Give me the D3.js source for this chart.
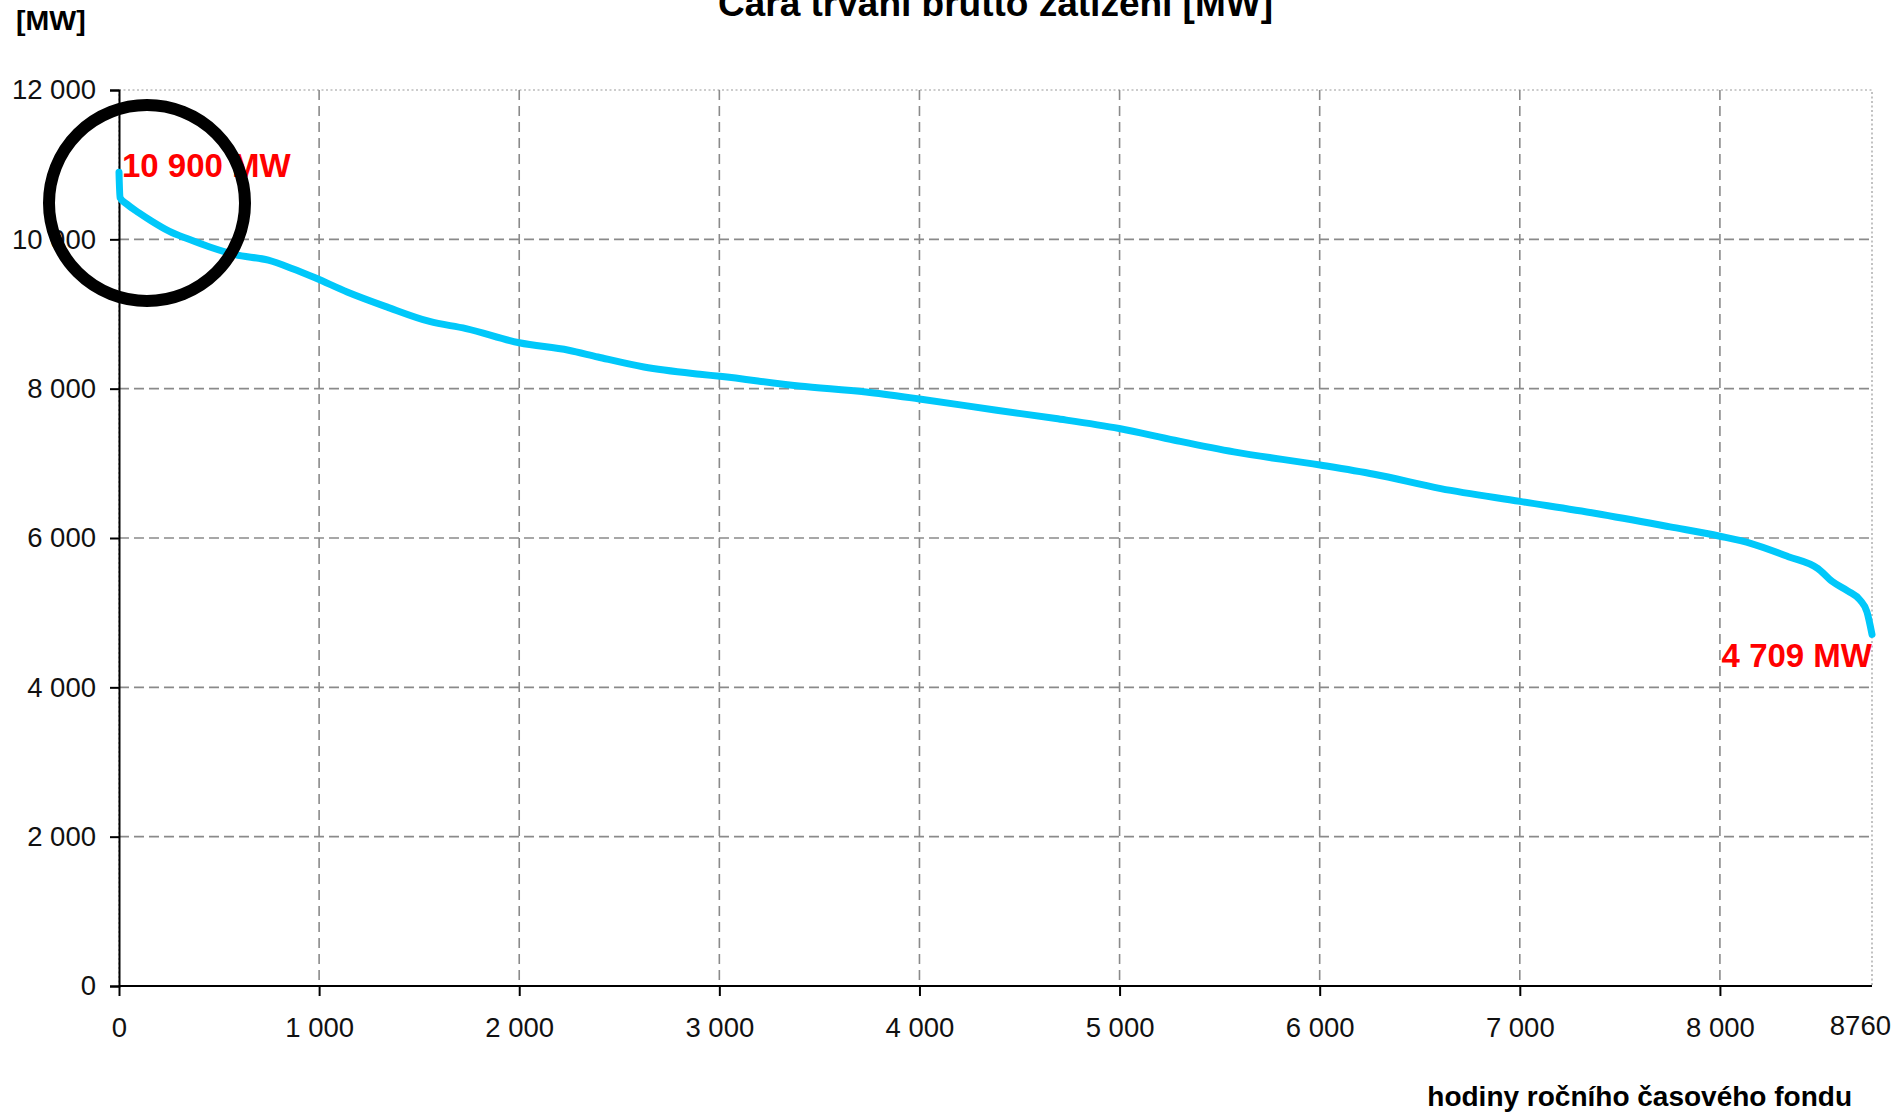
<!DOCTYPE html>
<html lang="cs">
<head>
<meta charset="utf-8">
<title>Čára trvání brutto zatížení [MW]</title>
<script src="https://cdn.jsdelivr.net/npm/d3@7/dist/d3.min.js"></script>
<style>
  html, body { margin: 0; padding: 0; background: #fff; }
  svg { display: block; font-family: "Liberation Sans", Arial, sans-serif; }
</style>
</head>
<body>
<svg id="chart" width="1897" height="1115"></svg>
<script>
// Load duration curve: hours of the year (sorted) vs. gross load in MW
const hours = [0, 5, 40, 100, 160, 250, 350, 450, 580, 746, 864, 980, 1140, 1338, 1552, 1734,
  2000, 2247, 2393, 2623, 2903, 3003, 3398, 3733, 4000, 4386, 4682, 4998, 5275, 5571, 6002,
  6272, 6605, 7002, 7381, 7751, 8000, 8157, 8342, 8490, 8560, 8640, 8700, 8735, 8760];
const loadMW = [10900, 10560, 10470, 10355, 10250, 10110, 10000, 9900, 9795, 9720, 9610, 9485, 9295, 9095, 8900, 8805,
  8615, 8515, 8424, 8290, 8193, 8165, 8035, 7956, 7862, 7711, 7600, 7466, 7309, 7153, 6978,
  6854, 6662, 6490, 6328, 6149, 6024, 5926, 5750, 5590, 5420, 5290, 5170, 5010, 4709];

const yTicks = [0, 2000, 4000, 6000, 8000, 10000, 12000];
const xTicks = [0, 1000, 2000, 3000, 4000, 5000, 6000, 7000, 8000];
const xEndLabel = "8760";
const peakLabel = "10 900 MW";
const minLabel = "4 709 MW";
const titleText = "Čára trvání brutto zatížení [MW]";
const yUnitText = "[MW]";
const xTitleText = "hodiny ročního časového fondu";

const svg = d3.select("#chart");
const plotLeft = 119, plotRight = 1872, plotTop = 90, plotBottom = 986;

const x = d3.scaleLinear().domain([0, 8760]).range([plotLeft, plotRight]);
const y = d3.scaleLinear().domain([0, 12000]).range([plotBottom, plotTop]);

const cz = d3.formatLocale({ decimal: ",", thousands: " ", grouping: [3], currency: ["", ""] });
const fmt = cz.format(",");

const gridColor = "#8a8a8a";

// plot frame (dotted)
svg.append("rect")
  .attr("x", plotLeft).attr("y", plotTop)
  .attr("width", plotRight - plotLeft).attr("height", plotBottom - plotTop)
  .attr("fill", "none")
  .attr("stroke", "#9a9a9a").attr("stroke-width", 1.2)
  .attr("stroke-dasharray", "2,2.5");

// dashed grid
svg.append("g").selectAll("line")
  .data(yTicks.filter(v => v > 0 && v < 12000))
  .join("line")
  .attr("x1", plotLeft).attr("x2", plotRight)
  .attr("y1", d => y(d)).attr("y2", d => y(d))
  .attr("stroke", gridColor).attr("stroke-width", 1.6)
  .attr("stroke-dasharray", "10,5");

svg.append("g").selectAll("line")
  .data(xTicks.filter(v => v > 0))
  .join("line")
  .attr("x1", d => x(d)).attr("x2", d => x(d))
  .attr("y1", plotTop).attr("y2", plotBottom)
  .attr("stroke", gridColor).attr("stroke-width", 1.6)
  .attr("stroke-dasharray", "10,6");

// axes
const yAxis = svg.append("g")
  .attr("transform", `translate(${plotLeft},0)`)
  .call(d3.axisLeft(y).tickValues(yTicks).tickFormat(fmt).tickSize(9).tickPadding(14));
const xAxis = svg.append("g")
  .attr("transform", `translate(0,${plotBottom})`)
  .call(d3.axisBottom(x).tickValues(xTicks).tickFormat(fmt).tickSize(10).tickPadding(21));

[yAxis, xAxis].forEach(g => {
  g.select(".domain").attr("stroke", "#000").attr("stroke-width", 2);
  g.selectAll(".tick line").attr("stroke", "#000").attr("stroke-width", 2);
  g.selectAll(".tick text")
    .attr("fill", "#111")
    .style("font-size", "27.5px")
    .style("font-family", "'Liberation Sans', Arial, sans-serif");
});
xAxis.select(".domain").attr("d", `M${plotLeft},0H${plotRight}`);

// end-of-year label on x axis
svg.append("text")
  .attr("x", 1891).attr("y", 1035)
  .attr("text-anchor", "end")
  .attr("fill", "#111")
  .style("font-size", "27.5px")
  .text(xEndLabel);

// load duration curve
const line = d3.line()
  .x((d, i) => x(hours[i]))
  .y(d => y(d))
  .curve(d3.curveMonotoneX);

svg.append("path")
  .datum(loadMW)
  .attr("d", line)
  .attr("fill", "none")
  .attr("stroke", "#00c8fa")
  .attr("stroke-width", 7)
  .attr("stroke-linejoin", "round")
  .attr("stroke-linecap", "round");

// value labels
svg.append("text")
  .attr("x", x(hours[0]) + 3).attr("y", y(loadMW[0]) + 5)
  .attr("fill", "#ff0000")
  .style("font-size", "33px").style("font-weight", "bold")
  .text(peakLabel);

svg.append("text")
  .attr("x", plotRight).attr("y", y(loadMW[loadMW.length - 1]) + 33)
  .attr("text-anchor", "end")
  .attr("fill", "#ff0000")
  .style("font-size", "33px").style("font-weight", "bold")
  .text(minLabel);

// highlight ring around the annual peak
svg.append("circle")
  .attr("cx", 147).attr("cy", 203).attr("r", 98)
  .attr("fill", "none")
  .attr("stroke", "#000").attr("stroke-width", 12);

// titles
svg.append("text")
  .attr("x", (plotLeft + plotRight) / 2).attr("y", 16)
  .attr("text-anchor", "middle")
  .attr("fill", "#000")
  .style("font-size", "37px").style("font-weight", "bold")
  .text(titleText);

svg.append("text")
  .attr("x", 16).attr("y", 30)
  .attr("fill", "#000")
  .style("font-size", "28.5px").style("font-weight", "bold")
  .text(yUnitText);

svg.append("text")
  .attr("x", 1852).attr("y", 1106)
  .attr("text-anchor", "end")
  .attr("fill", "#000")
  .style("font-size", "28px").style("font-weight", "bold")
  .text(xTitleText);
</script>
</body>
</html>
